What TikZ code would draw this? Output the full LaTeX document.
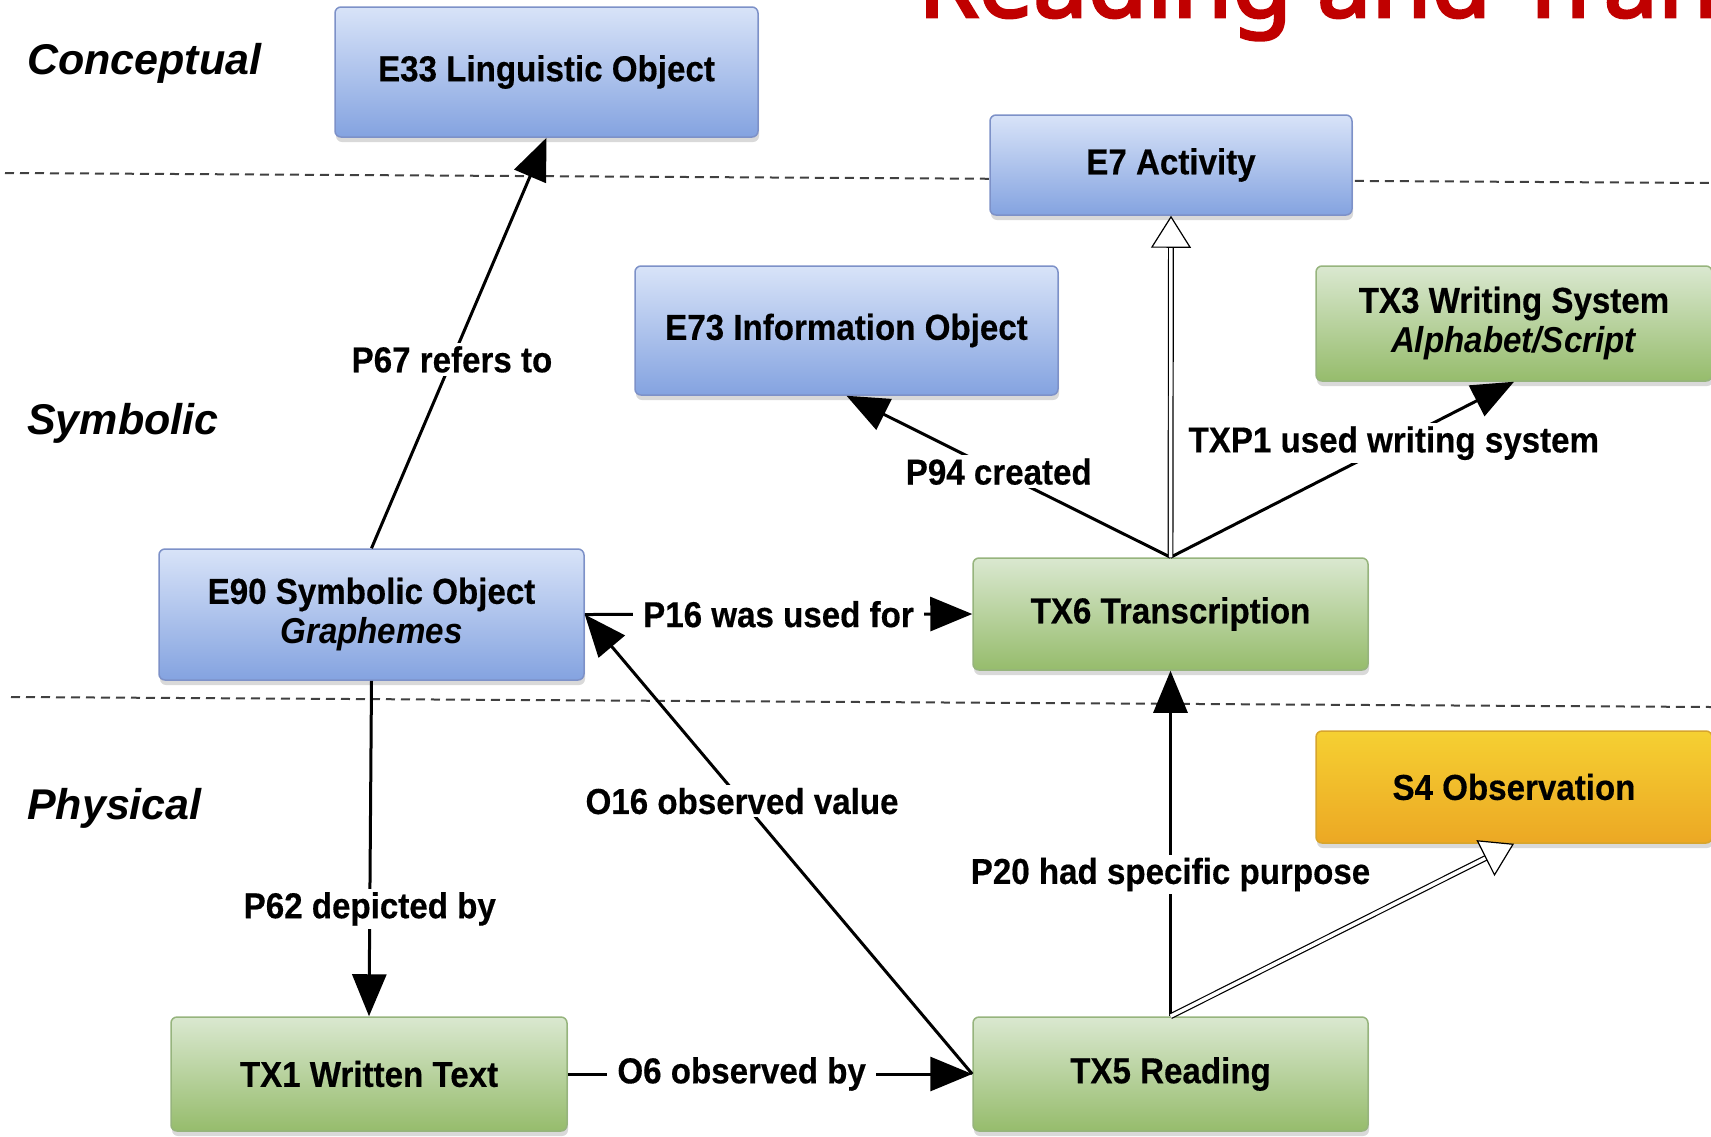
\documentclass[tikz,border=0pt]{standalone}
\usepackage{fontspec}
\newfontfamily\dfont{Liberation Sans}[FakeStretch=0.92, BoldFeatures={FakeBold=0.4}]
\newfontfamily\lfont{Liberation Sans}
\newfontfamily\tfont{Noto Sans}[FakeBold=3]
\usetikzlibrary{arrows.meta,shadows}
\definecolor{bluetop}{RGB}{216,227,248}
\definecolor{bluebot}{RGB}{132,163,224}
\definecolor{blueline}{RGB}{125,145,200}
\definecolor{greentop}{RGB}{218,232,208}
\definecolor{greenbot}{RGB}{150,188,108}
\definecolor{greenline}{RGB}{150,180,125}
\definecolor{orangetop}{RGB}{245,208,50}
\definecolor{orangebot}{RGB}{236,168,36}
\definecolor{orangeline}{RGB}{215,165,45}
\definecolor{titlered}{RGB}{192,0,0}
\begin{document}
\begin{tikzpicture}[x=1pt,y=-1pt,
  box/.style={rectangle, rounded corners=6pt, line width=1.5pt, align=center,
    font=\dfont\bfseries\fontsize{36}{40}\selectfont, inner sep=0pt,
    drop shadow={shadow xshift=1pt, shadow yshift=-5pt, opacity=0.3}},
  bluebox/.style={box, draw=blueline, top color=bluetop, bottom color=bluebot},
  greenbox/.style={box, draw=greenline, top color=greentop, bottom color=greenbot},
  orangebox/.style={box, draw=orangeline, top color=orangetop, bottom color=orangebot},
  rel/.style={line width=3pt, -{Triangle[length=42pt,width=34pt]}},
  isa/.style={line width=1.2pt, double=white, double distance=3.5pt,
    -{Triangle[open,length=32pt,width=40pt,line width=1.2pt,fill=white]}},
  lab/.style={fill=white, font=\dfont\bfseries\fontsize{36}{40}\selectfont, inner xsep=10pt, inner ysep=3pt},
  layer/.style={font=\lfont\bfseries\itshape\fontsize{43}{48}\selectfont, anchor=west, inner sep=0pt},
  sepline/.style={dash pattern=on 9pt off 6pt, line width=2pt, color=black!75}
]
\useasboundingbox (0,0) rectangle (1711,1136);

% title (cut by the top edge)
\node[anchor=base west, text=titlered, font=\tfont\fontsize{97}{99}\selectfont, inner sep=0pt] (title) at (918,17) {Reading and Tran};

% layer separators
\draw[sepline] (5,173) -- (1711,183);
\draw[sepline] (11,697) -- (1711,707);

% layer labels
\node[layer] (lconc) at (27,63) {Conceptual};
\node[layer] (lsymb) at (27,423.5) {Symbolic};
\node[layer] (lphys) at (27,808.5) {Physical};

% nodes
\node[bluebox, minimum width=423pt, minimum height=130pt] (e33) at (546.5,72) {E33 Linguistic Object};
\node[bluebox, minimum width=362pt, minimum height=100pt] (e7) at (1171,165) {E7 Activity};
\node[bluebox, minimum width=423pt, minimum height=129pt] (e73) at (846.5,330.5) {E73 Information Object};
\node[greenbox, minimum width=396pt, minimum height=115pt] (tx3) at (1514,323.5) {TX3 Writing System\\\textit{Alphabet/Script}};
\node[bluebox, minimum width=425pt, minimum height=131pt] (e90) at (371.5,614.5) {E90 Symbolic Object\\\textit{Graphemes}};
\node[greenbox, minimum width=395pt, minimum height=112pt] (tx6) at (1170.5,614) {TX6 Transcription};
\node[orangebox, minimum width=396pt, minimum height=112pt] (s4) at (1514,787) {S4 Observation};
\node[greenbox, minimum width=396pt, minimum height=114pt] (tx1) at (369,1074) {TX1 Written Text};
\node[greenbox, minimum width=395pt, minimum height=114pt] (tx5) at (1170.5,1074) {TX5 Reading};

% connectors
\draw[rel] (e90.north) -- node[lab, pos=0.46] {P67 refers to} (e33.south);
\draw[rel] (tx6.north) -- node[lab, pos=0.53] {P94 created} (e73.south);
\draw[rel] (tx6.north) -- node[lab, pos=0.65] {TXP1 used writing system} (tx3.south);
\draw[isa] (tx6.north) -- (e7.south);
\draw[rel] (e90.east) -- node[lab, pos=0.5] {P16 was used for} (tx6.west);
\draw[rel] (tx5.west) -- node[lab, pos=0.594] {O16 observed value} (e90.east);
\draw[rel] (e90.south) -- node[lab, pos=0.68] {P62 depicted by} (tx1.north);
\draw[rel] (tx1.east) -- node[lab, pos=0.43] {O6 observed by} (tx5.west);
\draw[rel] (tx5.north) -- node[lab, pos=0.41] {P20 had specific purpose} (tx6.south);
\draw[isa] (tx5.north) -- (s4.south);
\end{tikzpicture}
\end{document}
